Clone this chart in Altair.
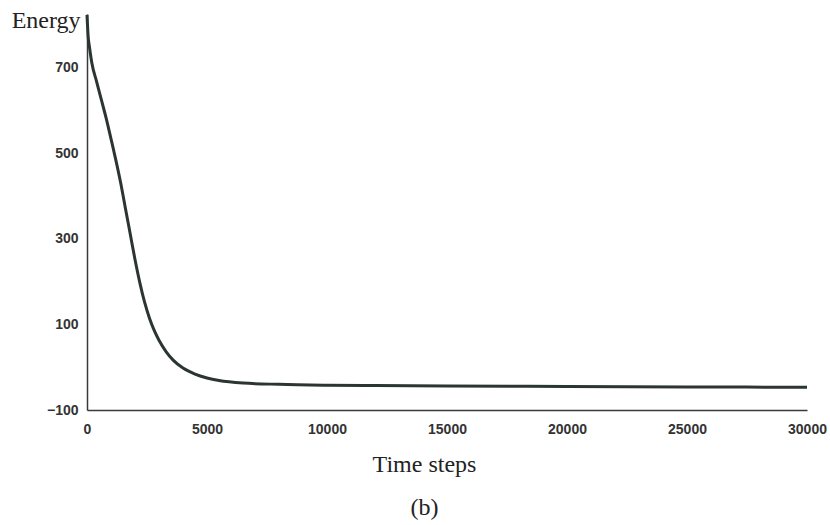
import altair as alt
import pandas as pd

steps = [0, 50, 100, 200, 400, 600, 800, 1000, 1200, 1400, 1600, 1800, 2000, 2200,
         2400, 2600, 2800, 3000, 3300, 3600, 4000, 4500, 5000, 5500, 6500, 8000,
         10000, 12000, 15000, 20000, 25000, 30000]
energy = [824, 772, 750, 712, 668, 625, 582, 534, 485, 432, 372, 312, 252, 198,
          152, 115, 86, 63, 36, 16, -2, -16, -25, -31, -37, -40,
          -42, -43, -44, -45, -46, -47]
x_ticks = [0, 5000, 10000, 15000, 20000, 25000, 30000]
y_ticks = [-100, 100, 300, 500, 700]

df = pd.DataFrame({"t": steps, "e": energy})

line = alt.Chart(df).mark_line(
    color="#2c3631", strokeWidth=3, interpolate="monotone"
).encode(
    x=alt.X("t:Q",
            scale=alt.Scale(domain=[0, 30000], nice=False, zero=False),
            axis=alt.Axis(values=x_ticks, format="d", ticks=False, grid=False,
                          domainColor="#3a3a3a", domainWidth=1.5,
                          labelFont="Liberation Sans", labelFontSize=14, labelFontWeight="bold",
                          labelColor="#333333", labelPadding=12,
                          labelFlush=False,
                          title=["Time steps", "(b)"], titleFont="Liberation Serif",
                          titleFontSize=24, titleFontWeight="normal", titleColor="#222222",
                          titleLineHeight=43, titleX=337, titleY=61, titleBaseline="alphabetic")),
    y=alt.Y("e:Q",
            scale=alt.Scale(domain=[-100, 826], nice=False, zero=False),
            axis=alt.Axis(values=y_ticks, ticks=False, grid=False,
                          domainColor="#3a3a3a", domainWidth=1.5,
                          labelFont="Liberation Sans", labelFontSize=14, labelFontWeight="bold",
                          labelColor="#333333", labelPadding=9,
                          title="Energy", titleFont="Liberation Serif", titleFontSize=24,
                          titleFontWeight="normal", titleColor="#222222", titleAngle=0,
                          titleAlign="right", titleBaseline="alphabetic",
                          titleX=-7, titleY=13)),
).properties(
    width=720, height=396,
    autosize=alt.AutoSizeParams(type="none"),
    padding={"left": 87, "top": 14, "right": 23, "bottom": 115},
).configure(background="white").configure_view(strokeWidth=0, stroke="transparent")

line.save("out.html", embed_options={"renderer": "svg", "actions": False})
